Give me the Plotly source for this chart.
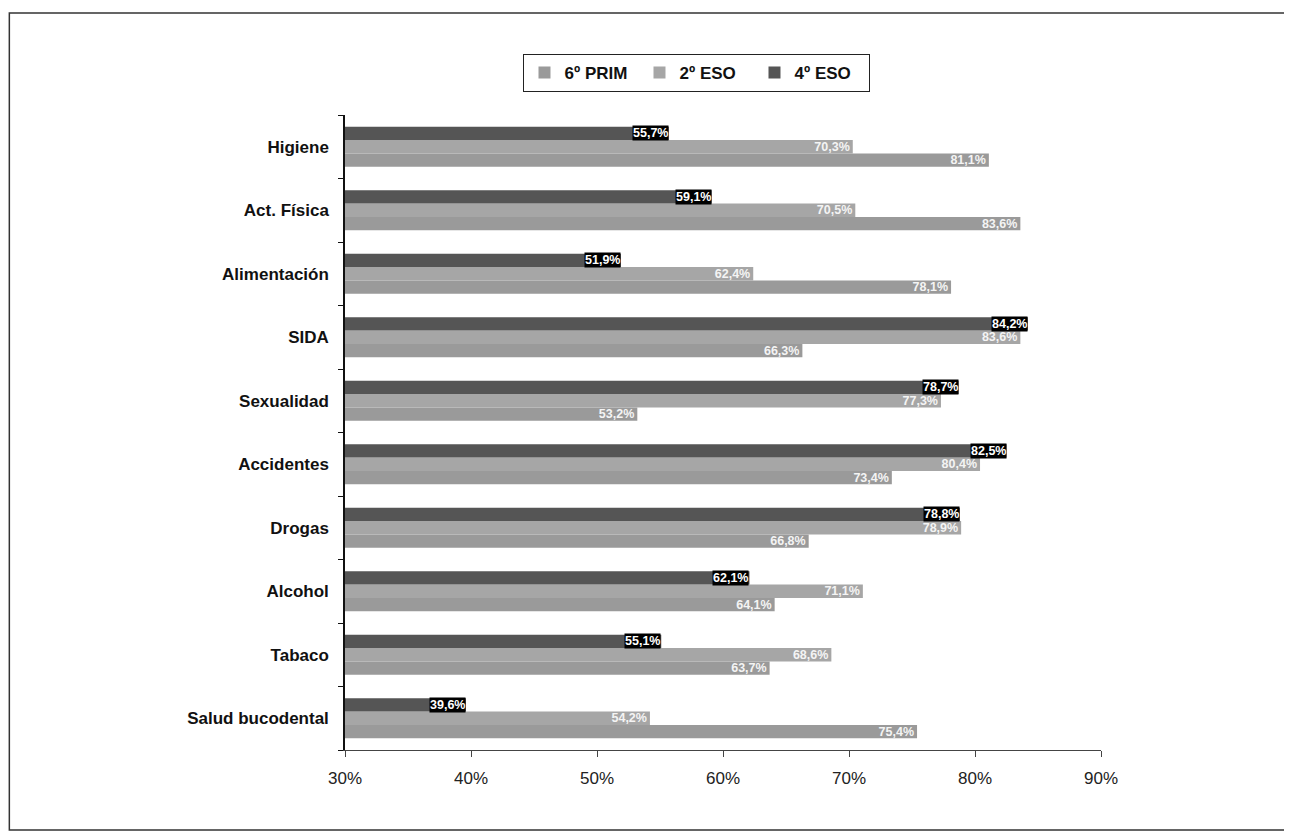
import plotly.graph_objects as go

categories = ["Higiene", "Act. Física", "Alimentación", "SIDA", "Sexualidad",
              "Accidentes", "Drogas", "Alcohol", "Tabaco", "Salud bucodental"]
prim6 = [81.1, 83.6, 78.1, 66.3, 53.2, 73.4, 66.8, 64.1, 63.7, 75.4]
eso2 = [70.3, 70.5, 62.4, 83.6, 77.3, 80.4, 78.9, 71.1, 68.6, 54.2]
eso4 = [55.7, 59.1, 51.9, 84.2, 78.7, 82.5, 78.8, 62.1, 55.1, 39.6]
series_names = ["6º PRIM", "2º ESO", "4º ESO"]
x_ticks = [30, 40, 50, 60, 70, 80, 90]
x_ticktext = ["30%", "40%", "50%", "60%", "70%", "80%", "90%"]

FONT = "Liberation Sans, Arial, sans-serif"
BARGAP = 0.37
PLOT_H = 635

fig = go.Figure()
fig.add_trace(go.Bar(
    y=categories, x=prim6, name=series_names[0], orientation="h",
    marker=dict(color="#9a9a9a", line=dict(width=0)),
    texttemplate="%{x:.1f}%", textposition="inside", insidetextanchor="end",
    constraintext="none",
    textfont=dict(family=FONT, size=12.5, color="#f4f4f4", weight="bold"),
))
fig.add_trace(go.Bar(
    y=categories, x=eso2, name=series_names[1], orientation="h",
    marker=dict(color="#a6a6a6", line=dict(width=0)),
    texttemplate="%{x:.1f}%", textposition="inside", insidetextanchor="end",
    constraintext="none",
    textfont=dict(family=FONT, size=12.5, color="#f4f4f4", weight="bold"),
))
fig.add_trace(go.Bar(
    y=categories, x=eso4, name=series_names[2], orientation="h",
    marker=dict(color="#555555", line=dict(width=0)),
    textposition="none",
))

bar_px = (1 - BARGAP) * PLOT_H / len(categories) / 3
for c, v in zip(categories, eso4):
    fig.add_annotation(
        x=v, y=c, xref="x", yref="y", xanchor="right", yanchor="middle",
        yshift=bar_px, showarrow=False,
        text=(f"{v:.1f}%").replace(".", ","),
        font=dict(family=FONT, size=12.5, color="white", weight="bold"),
        bgcolor="black", borderpad=0,
    )

# outer frame
fig.add_shape(type="rect", xref="paper", yref="paper",
              x0=-0.444, x1=1.2447, y0=-0.126, y1=1.1606,
              line=dict(color="#333333", width=1.5), fillcolor="rgba(0,0,0,0)")

fig.update_layout(
    width=1292, height=838,
    margin=dict(l=337, r=199, t=107, b=96),
    paper_bgcolor="white", plot_bgcolor="white",
    barmode="group", bargap=BARGAP, bargroupgap=0,
    separators=",.",
    showlegend=True,
    legend=dict(
        orientation="h", x=0.4656, xanchor="center", y=1.096, yanchor="top",
        bordercolor="#222222", borderwidth=1, bgcolor="white",
        font=dict(family=FONT, size=17, color="#111111", weight="bold"),
        traceorder="normal", entrywidth=70, entrywidthmode="pixels",
    ),
    xaxis=dict(
        range=[30, 90], tickvals=x_ticks, ticktext=x_ticktext,
        showgrid=False, zeroline=False,
        showline=True, linecolor="#444444", linewidth=1,
        ticks="outside", ticklen=6, tickcolor="#444444",
        tickfont=dict(family=FONT, size=17, color="#222222"),
        ticklabelstandoff=7,
    ),
    yaxis=dict(
        categoryorder="array", categoryarray=categories[::-1],
        showgrid=False, zeroline=False,
        showline=True, linecolor="#111111", linewidth=1.5,
        ticks="outside", ticklen=5, tickcolor="#111111", tickson="boundaries",
        tickfont=dict(family=FONT, size=17, color="#111111", weight="bold"),
        ticklabelstandoff=11,
    ),
)

fig.write_html("out.html")
